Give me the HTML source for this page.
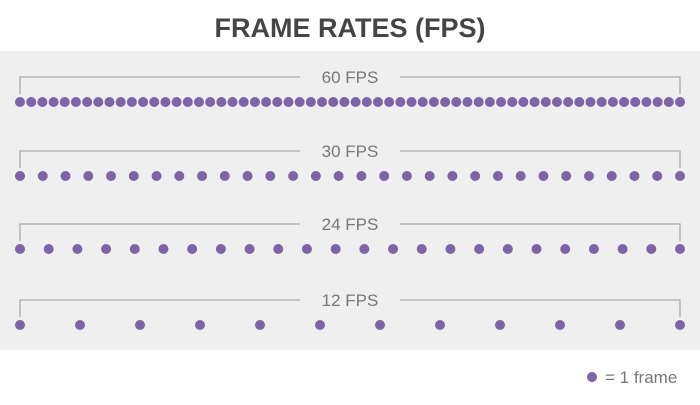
<!DOCTYPE html>
<html><head><meta charset="utf-8"><style>
body{margin:0;width:700px;height:400px;background:#fff;overflow:hidden;font-family:"Liberation Sans",sans-serif}
</style></head><body>
<svg width="700" height="400">
<text x="350" y="37" text-anchor="middle" font-size="27" font-weight="bold" fill="#454545">FRAME RATES (FPS)</text>
<rect x="0" y="51" width="700" height="299" fill="#efeff0"/>
<g id="rows"></g>
<circle cx="592" cy="377" r="5" fill="#7d63a8"/>
<text x="605" y="383" font-size="17" fill="#777">= 1 frame</text>
</svg>
<script>
const labels=["60 FPS","30 FPS","24 FPS","12 FPS"];
const fps=[60,30,24,12];
const rowY=[102,176,249,325];
const g=document.getElementById('rows');
const NS='http://www.w3.org/2000/svg';
const x0=20,x1=680;
function mk(t,a){const e=document.createElementNS(NS,t);for(const k in a)e.setAttribute(k,a[k]);return e;}
fps.forEach((f,i)=>{
  const y=rowY[i], by=y-25;
  const p=mk('path',{d:`M${x0} ${by+17}V${by}H${300}M${400} ${by}H${x1}V${by+17}`,stroke:'#aaa','stroke-width':1.3,fill:'none'});
  
  
  g.appendChild(p);
  const t=mk('text',{x:350,y:by+6,'text-anchor':'middle','font-size':17,fill:'#777'});
  t.textContent=labels[i];
  
  
  g.appendChild(t);
  for(let k=0;k<f;k++){
    const c=mk('circle',{cx:x0+(x1-x0)*k/(f-1),cy:y,r:5,fill:'#7d63a8'});
    
    
    g.appendChild(c);
  }
});
</script>
</body></html>
